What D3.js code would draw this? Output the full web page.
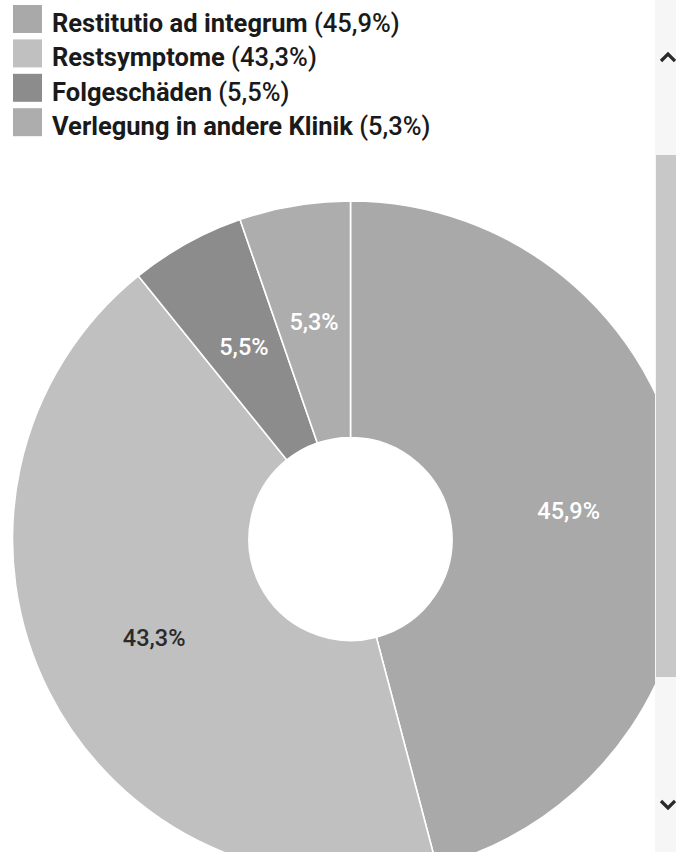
<!DOCTYPE html>
<html>
<head>
<meta charset="utf-8">
<script src="https://cdn.jsdelivr.net/npm/d3@7/dist/d3.min.js"></script>
<style>
  html, body { margin: 0; padding: 0; background: #fff; }
  svg { display: block; }
</style>
</head>
<body>
<svg id="chart" width="676" height="852"></svg>
<script>
// Outcome categories and their shares (percent)
const categories = ["Restitutio ad integrum", "Restsymptome", "Folgeschäden", "Verlegung in andere Klinik"];
const shares = [45.9, 43.3, 5.5, 5.3];
const sliceColors = ["#a9a9a9", "#c0c0c0", "#8c8c8c", "#adadad"];
const labelColors = ["#ffffff", "#2a2a2a", "#ffffff", "#ffffff"];

const W = 676, H = 852;
const svg = d3.select("#chart");

// German number format: decimal comma
const de = d3.formatLocale({ decimal: ",", thousands: ".", grouping: [3], currency: ["", " €"] });
const pct = v => de.format(".1f")(v) + "%";

const data = categories.map((c, i) => ({ name: c, value: shares[i], color: sliceColors[i], label: labelColors[i] }));

// Plot area is clipped by the scrollbar panel on the right
const plotRight = 655;
svg.append("defs").append("clipPath").attr("id", "plotClip")
  .append("rect").attr("x", 0).attr("y", 0).attr("width", plotRight).attr("height", H);

const cx = 350.5, cy = 539, rOuter = 338, rInner = 101.5;

const pie = d3.pie().value(d => d.value).sort(null);
const arc = d3.arc().innerRadius(rInner).outerRadius(rOuter);
const labelArc = d3.arc().innerRadius(220).outerRadius(220);

const plot = svg.append("g").attr("clip-path", "url(#plotClip)");
const g = plot.append("g").attr("transform", `translate(${cx},${cy})`);
const arcs = pie(data);

g.selectAll("path.slice").data(arcs).join("path")
  .attr("class", "slice")
  .attr("d", arc)
  .attr("fill", d => d.data.color)
  .attr("stroke", "#ffffff")
  .attr("stroke-width", 1.6);

g.selectAll("text.val").data(arcs).join("text")
  .attr("class", "val")
  .attr("transform", d => `translate(${labelArc.centroid(d)})`)
  .attr("text-anchor", "middle")
  .attr("dy", "0.35em")
  .attr("font-family", "Roboto, sans-serif")
  .attr("font-size", 23.5)
  .attr("font-weight", 500)
  .attr("fill", d => d.data.label)
  .text(d => pct(d.data.value));

// Legend
const legend = svg.append("g").attr("transform", "translate(13,5)");
const rowH = 34.4;
const rows = legend.selectAll("g.row").data(data).join("g")
  .attr("class", "row")
  .attr("transform", (d, i) => `translate(0,${i * rowH})`);
rows.append("rect")
  .attr("width", 29).attr("height", 28)
  .attr("fill", d => d.color);
const lt = rows.append("text")
  .attr("x", 39).attr("y", 27)
  .attr("font-family", "Roboto, sans-serif")
  .attr("font-size", 25.5)
  .attr("fill", "#1a1a1a");
lt.append("tspan").attr("font-weight", 700).text(d => d.name + " ");
lt.append("tspan").attr("font-weight", 500).text(d => "(" + pct(d.value) + ")");

// Scrollbar panel on the right edge
const sb = svg.append("g");
sb.append("rect").attr("x", plotRight).attr("y", 0).attr("width", W - plotRight).attr("height", H).attr("fill", "#f6f6f6");
sb.append("rect").attr("x", plotRight + 1).attr("y", 155).attr("width", W - plotRight - 1).attr("height", 522).attr("fill", "#c8c8c8");
const arrowX = 668;
sb.append("path").attr("d", `M${arrowX - 7},${61} L${arrowX},${54} L${arrowX + 7},${61}`)
  .attr("fill", "none").attr("stroke", "#2a2a2a").attr("stroke-width", 3.2);
sb.append("path").attr("d", `M${arrowX - 7},${801} L${arrowX},${808} L${arrowX + 7},${801}`)
  .attr("fill", "none").attr("stroke", "#2a2a2a").attr("stroke-width", 3.2);
</script>
</body>
</html>
